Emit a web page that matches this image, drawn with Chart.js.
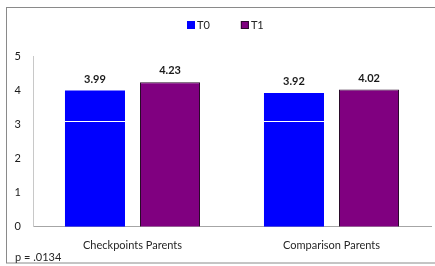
<!DOCTYPE html>
<html>
<head>
<meta charset="utf-8">
<style>
  html, body { margin: 0; padding: 0; background: #fff; }
  #wrap { width: 435px; height: 266px; position: relative; }
</style>
<script src="https://cdn.jsdelivr.net/npm/chart.js@4.4.1/dist/chart.umd.min.js"></script>
</head>
<body>
<div id="wrap"><canvas id="parentsChart"></canvas></div>
<script>
const categories = ['Checkpoints Parents', 'Comparison Parents'];
const seriesNames = ['T0', 'T1'];
const t0Values = [3.99, 3.92];
const t1Values = [4.23, 4.02];
// thin white mark inside the T0 bars (as in the original)
const t0Marks = [3.1, 3.1];
const yTicks = [0, 1, 2, 3, 4, 5];
const footNote = 'p = .0134';

const FONT = 'Lato, "Liberation Sans", sans-serif';

const framePlugin = {
    id: 'frame',
    beforeDraw(chart) {
        const ctx = chart.ctx;
        ctx.save();
        ctx.fillStyle = '#ffffff';
        ctx.fillRect(0, 0, chart.width, chart.height);
        ctx.strokeStyle = '#8a8a8a';
        ctx.lineWidth = 1;
        ctx.strokeRect(6.5, 7.5, chart.width, 255.5);
        ctx.restore();
    },
    afterDatasetsDraw(chart) {
        const ctx = chart.ctx;
        const y = chart.scales.y;
        ctx.save();
        // white mark in T0 bars
        chart.getDatasetMeta(0).data.forEach((bar, i) => {
            const py = Math.round(y.getPixelForValue(t0Marks[i]));
            ctx.fillStyle = '#ffffff';
            ctx.fillRect(bar.x - bar.width / 2, py, bar.width, 1);
        });
        // value labels
        ctx.font = 'bold 11px ' + FONT;
        ctx.fillStyle = '#1a1a1a';
        ctx.textAlign = 'center';
        ctx.textBaseline = 'middle';
        chart.data.datasets.forEach((ds, di) => {
            chart.getDatasetMeta(di).data.forEach((bar, i) => {
                ctx.fillText(ds.data[i].toFixed(2), bar.x, bar.y - 11.5);
            });
        });
        ctx.restore();
    },
    afterDraw(chart) {
        const ctx = chart.ctx;
        ctx.save();
        // legend
        ctx.font = '11px ' + FONT;
        ctx.textBaseline = 'middle';
        ctx.textAlign = 'left';
        let x = 187;
        chart.data.datasets.forEach(ds => {
            ctx.fillStyle = ds.backgroundColor;
            ctx.fillRect(x, 21, 8, 8);
            if (ds.borderWidth) {
                ctx.strokeStyle = ds.borderColor;
                ctx.lineWidth = 1;
                ctx.strokeRect(x + 0.5, 21.5, 7, 7);
            }
            ctx.fillStyle = '#262626';
            ctx.fillText(ds.label, x + 10, 25);
            x += 10 + ctx.measureText(ds.label).width + 31;
        });
        // footnote
        ctx.fillText(footNote, 15, 257);
        ctx.restore();
    }
};

const ctx = document.getElementById('parentsChart').getContext('2d');
new Chart(ctx, {
    type: 'bar',
    data: {
        labels: categories,
        datasets: [
            {
                label: seriesNames[0],
                data: t0Values,
                backgroundColor: '#0000ff',
                borderWidth: 0,
                categoryPercentage: 0.754,
                barPercentage: 0.8
            },
            {
                label: seriesNames[1],
                data: t1Values,
                backgroundColor: '#800080',
                borderColor: '#2a0a2a',
                borderWidth: 1,
                categoryPercentage: 0.754,
                barPercentage: 0.8
            }
        ]
    },
    options: {
        responsive: true,
        maintainAspectRatio: false,
        animation: false,
        layout: {
            padding: { left: 14, right: 4, top: 56, bottom: 2 }
        },
        plugins: {
            legend: { display: false },
            tooltip: { enabled: false }
        },
        scales: {
            x: {
                grid: { display: false, drawTicks: false },
                border: { display: true, color: '#a6a6a6' },
                ticks: {
                    color: '#262626',
                    padding: 12,
                    font: { family: FONT, size: 11 }
                }
            },
            y: {
                min: yTicks[0],
                max: yTicks[yTicks.length - 1],
                afterFit(scale) { scale.width = 19; },
                afterBuildTicks(scale) { scale.ticks = yTicks.map(v => ({ value: v })); },
                grid: { display: false, drawTicks: false },
                border: { display: true, color: '#c8c8c8' },
                ticks: {
                    color: '#1a1a1a',
                    padding: 12,
                    font: { family: FONT, size: 11 }
                }
            }
        }
    },
    plugins: [framePlugin]
});
</script>
</body>
</html>
